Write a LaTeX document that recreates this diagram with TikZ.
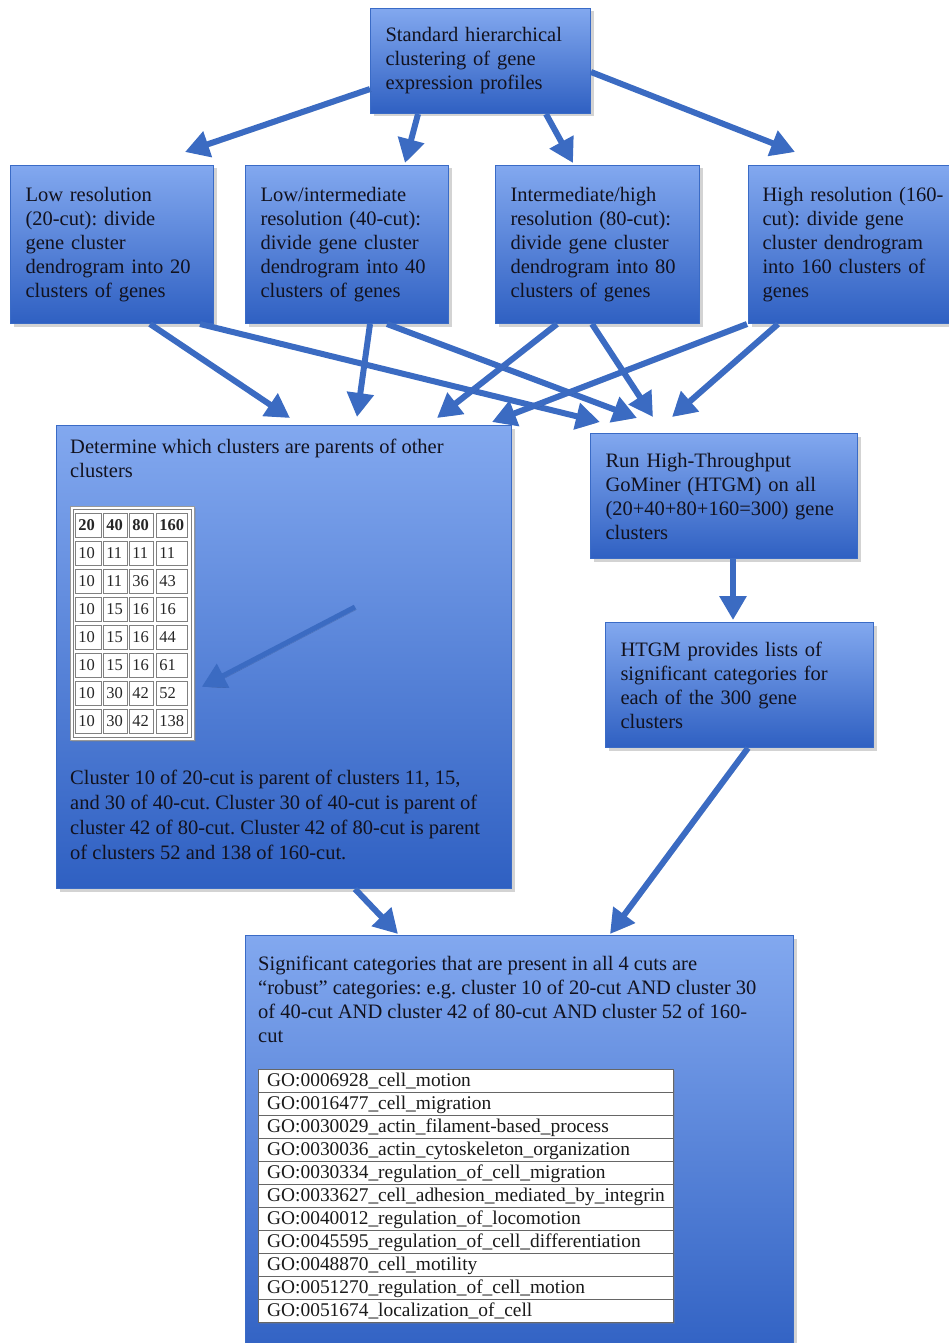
\documentclass[tikz,border=0pt]{standalone}
\usepackage{fontspec}
\setmainfont{Liberation Serif}
\usetikzlibrary{calc,arrows.meta,shadows}

\definecolor{boxtop}{HTML}{82A8EF}
\definecolor{boxbot}{HTML}{2F60C2}
\definecolor{boxline}{HTML}{3A6BC6}
\definecolor{flowblue}{HTML}{3B6BC2}
\definecolor{inkdark}{HTML}{12121E}

\tikzset{
  stage/.style={anchor=north west, draw=boxline, line width=1pt,
    top color=boxtop, bottom color=boxbot,
    drop shadow={shadow xshift=3pt, shadow yshift=-3pt, opacity=.35},
    inner xsep=15pt, inner ysep=0pt, align=left, text=inkdark,
    font=\fontsize{20.5}{24}\selectfont},
  note/.style={anchor=north west, inner sep=0pt, align=left, text=inkdark,
    font=\fontsize{20.5}{24}\selectfont},
  flow/.style={draw=flowblue, line width=6pt, -{Triangle[width=26pt,length=24pt]},
    preaction={draw=black, opacity=.18, transform canvas={shift={(1.5pt,-2.5pt)}}}},
  cell/.style={anchor=north west, draw=black!50, line width=.7pt, inner xsep=3pt,
    inner ysep=0pt, minimum height=24pt, text width=#1, align=left, text=black!85,
    font=\fontsize{16.5}{18}\selectfont},
  sheet/.style={anchor=north west, fill=white, draw=black!40, line width=.8pt,
    drop shadow={shadow xshift=2pt, shadow yshift=-2pt, opacity=.3}}
}

\begin{document}
\frenchspacing
\begin{tikzpicture}[x=1pt,y=-1pt]
    \useasboundingbox (0,0) rectangle (949,1343);
    \clip (0,0) rectangle (949,1343);

    % boxes
    \node (hier) [stage, text width=190pt, minimum height=105pt] at (370,8)
        {Standard hierarchical\\clustering of gene\\expression profiles};
    \node (cut20) [stage, text width=173pt, minimum height=158pt] at (10,165)
        {Low resolution\\(20-cut): divide\\gene cluster\\dendrogram into 20\\clusters of genes};
    \node (cut40) [stage, text width=173pt, minimum height=158pt] at (245,165)
        {Low/intermediate\\resolution (40-cut):\\divide gene cluster\\dendrogram into 40\\clusters of genes};
    \node (cut80) [stage, text width=174pt, minimum height=158pt] at (495,165)
        {Intermediate/high\\resolution (80-cut):\\divide gene cluster\\dendrogram into 80\\clusters of genes};
    \node (cut160) [stage, inner xsep=14pt, text width=187pt, minimum height=158pt] at (748,165)
        {High resolution (160-\\cut): divide gene\\cluster dendrogram\\into 160 clusters of\\genes};

    \node (parent) [stage, minimum width=455pt, minimum height=463pt] at (56,425) {};
    \node (htgm) [stage, text width=237pt, minimum height=125pt] at (590,433)
        {Run High-Throughput\\GoMiner (HTGM) on all\\(20+40+80+160=300) gene\\clusters};
    \node (lists) [stage, text width=238pt, minimum height=125pt] at (605,622)
        {HTGM provides lists of\\significant categories for\\each of the 300 gene\\clusters};
    \node (robust) [stage, minimum width=548pt, minimum height=430pt] at (245,935) {};

    % texts of the two large boxes
    \node (parenthead) [note] at ($(parent.north west)+(14,14)$)
        {Determine which clusters are parents of other\\clusters};
    \node (parentnote) [note, font=\fontsize{20.5}{25}\selectfont] at ($(parent.north west)+(14,345)$)
        {Cluster 10 of 20-cut is parent of clusters 11, 15,\\and 30 of 40-cut. Cluster 30 of 40-cut is parent of\\cluster 42 of 80-cut. Cluster 42 of 80-cut is parent\\of clusters 52 and 138 of 160-cut.};
    \node (robusttext) [note] at ($(robust.north west)+(13,21)$)
        {Significant categories that are present in all 4 cuts are\\“robust” categories: e.g. cluster 10 of 20-cut AND cluster 30\\of 40-cut AND cluster 42 of 80-cut AND cluster 52 of 160-\\cut};

    % parent table
    \node (tbl) [sheet, minimum width=124pt, minimum height=234pt] at (70,506) {};
    \draw [black!50, line width=.7pt] ($(tbl.north west)+(3,3)$) rectangle ($(tbl.south east)+(-3,-3)$);
    \foreach \a/\b/\c/\d [count=\r from 0] in {20/40/80/160, 10/11/11/11, 10/11/36/43,
        10/15/16/16, 10/15/16/44, 10/15/16/61, 10/30/42/52, 10/30/42/138} {
        \node (t\r-1) [cell=20pt] at ($(tbl.north west)+(5,{7+28*\r})$) {\ifnum\r=0 \bfseries\fi\a};
        \node (t\r-2) [cell=18pt] at ($(tbl.north west)+(33,{7+28*\r})$) {\ifnum\r=0 \bfseries\fi\b};
        \node (t\r-3) [cell=18pt] at ($(tbl.north west)+(59,{7+28*\r})$) {\ifnum\r=0 \bfseries\fi\c};
        \node (t\r-4) [cell=25pt] at ($(tbl.north west)+(86,{7+28*\r})$) {\ifnum\r=0 \bfseries\fi\d};
    }

    % robust GO terms
    \node (golist) [sheet, draw=black!60, minimum width=415pt, minimum height=253pt] at (258,1069) {};
    \foreach \i in {1,...,10}
        \draw [black!60, line width=.8pt] ($(golist.north west)+(0,23*\i)$) -- ($(golist.north east)+(0,23*\i)$);
    \foreach \term [count=\i from 0] in {GO:0006928\_cell\_motion, GO:0016477\_cell\_migration,
        GO:0030029\_actin\_filament-based\_process, GO:0030036\_actin\_cytoskeleton\_organization,
        GO:0030334\_regulation\_of\_cell\_migration, GO:0033627\_cell\_adhesion\_mediated\_by\_integrin,
        GO:0040012\_regulation\_of\_locomotion, GO:0045595\_regulation\_of\_cell\_differentiation,
        GO:0048870\_cell\_motility, GO:0051270\_regulation\_of\_cell\_motion,
        GO:0051674\_localization\_of\_cell}
        \node (go\i) [anchor=base west, inner sep=0pt, text=black!90, font=\fontsize{19.4}{23}\selectfont]
            at ($(golist.north west)+(9,{23*\i+17.7})$) {\term};

    % arrows
    \draw [flow] ($(hier.south west)+(0,-25)$) -- ($(cut20.north west)+(175,-13)$);
    \draw [flow] ($(hier.south west)+(48,0)$) -- ($(cut40.north west)+(160,-2)$);
    \draw [flow] ($(hier.south east)+(-45,0)$) -- ($(cut80.north west)+(78,-2)$);
    \draw [flow] ($(hier.north east)+(0,64)$) -- ($(cut160.north west)+(47,-13)$);

    \draw [flow] ($(cut20.south west)+(140,0)$) -- ($(parent.north west)+(234,-7)$);
    \draw [flow] ($(cut20.south west)+(190,0)$) -- ($(htgm.north west)+(10,-11)$);
    \draw [flow] ($(cut40.south west)+(125,0)$) -- ($(parent.north west)+(301,-8)$);
    \draw [flow] ($(cut40.south west)+(142,0)$) -- ($(htgm.north west)+(47,-15)$);
    \draw [flow] ($(cut80.south west)+(62,0)$) -- ($(parent.north west)+(381,-7)$);
    \draw [flow] ($(cut80.south west)+(97,0)$) -- ($(htgm.north west)+(63,-16)$);
    \draw [flow] ($(cut160.south west)+(-1,0)$) -- ($(parent.north west)+(436,-3)$);
    \draw [flow] ($(cut160.south west)+(30,0)$) -- ($(htgm.north west)+(82,-16)$);

    \coordinate (pointer) at ($(parent.north west)+(299,182)$);
    \draw [flow, line width=5pt] (pointer) -- ($(tbl.south east)+(7,-54)$);

    \draw [flow] ($(htgm.south west)+(143,0)$) -- ($(lists.north west)+(128,-2)$);
    \draw [flow] ($(lists.south west)+(143,0)$) -- ($(robust.north west)+(365,-1)$);
    \draw [flow] ($(parent.south west)+(299,0)$) -- ($(robust.north west)+(153,-1)$);

\end{tikzpicture}
\end{document}
